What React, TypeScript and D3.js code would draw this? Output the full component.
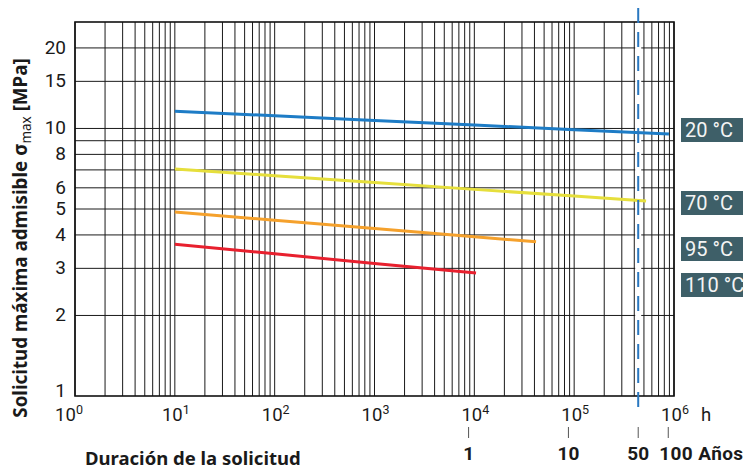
import React from "react";
import * as d3 from "d3";

// ---- data ----
const series20Hours = [10, 100, 1000, 10000, 100000, 890000];
const series20Values = [11.6, 11.15, 10.7, 10.3, 9.9, 9.53];
const series70Hours = [10, 100, 1000, 10000, 100000, 525000];
const series70Values = [7.06, 6.66, 6.28, 5.92, 5.59, 5.36];
const series95Hours = [10, 100, 1000, 10000, 41500];
const series95Values = [4.87, 4.54, 4.23, 3.94, 3.77];
const series110Hours = [10, 100, 1000, 10400];
const series110Values = [3.69, 3.4, 3.13, 2.88];

const seriesNames = ["20 °C", "70 °C", "95 °C", "110 °C"];
const seriesColors = ["#1d7cc6", "#e6df3c", "#f5a12c", "#e8202e"];

const yTickValues = [1, 2, 3, 4, 5, 6, 8, 10, 15, 20];
const yGridValues = [2, 3, 4, 5, 6, 7, 8, 9, 10, 15, 20];
const xDecadeExponents = [0, 1, 2, 3, 4, 5, 6];
const yearTicks = [1, 10, 50, 100];
const yearLabels = ["1", "10", "50", "100 Años"];
const hoursPerYear = 8760;
const serviceYears = 50;

const W = 749;
const H = 471;
const L = 75, R = 674, T = 22, B = 396;

const x = d3.scaleLog().domain([1, 1e6]).range([L, R]);
const y = d3.scaleLog().domain([1, 25]).range([B, T]);

const FONT = "Roboto, 'Noto Sans', sans-serif";
const TITLE_FONT = "'Noto Sans', Roboto, sans-serif";

export default function App() {
  const hoursList = [series20Hours, series70Hours, series95Hours, series110Hours];
  const valueList = [series20Values, series70Values, series95Values, series110Values];
  const line = d3
    .line<[number, number]>()
    .x((d) => x(d[0]))
    .y((d) => y(d[1]));

  const vGrid: number[] = [];
  for (let dcd = 0; dcd < 6; dcd++) {
    for (let k = 1; k <= 9; k++) vGrid.push(k * Math.pow(10, dcd));
  }
  vGrid.push(1e6);

  const labelBoxY = [118, 191, 237, 273];
  const dashX = x(serviceYears * hoursPerYear);

  return (
    <svg
      width={W}
      height={H}
      style={{ position: "absolute", left: 0, top: 0, background: "#fff" }}
      fontFamily={FONT}
    >
      {/* grid */}
      {vGrid.map((v, i) => (
        <line key={"v" + i} x1={x(v)} x2={x(v)} y1={T} y2={B} stroke="#1a1a1a" strokeWidth={1} />
      ))}
      {yGridValues.map((v, i) => (
        <line key={"h" + i} x1={L} x2={R} y1={y(v)} y2={y(v)} stroke="#1a1a1a" strokeWidth={1} />
      ))}
      {/* frame */}
      <rect x={L} y={T} width={R - L} height={B - T} fill="none" stroke="#111" strokeWidth={1.6} />

      {/* service life marker background */}
      <line x1={dashX} x2={dashX} y1={T + 1} y2={B - 1} stroke="#fff" strokeWidth={6} />

      {/* series */}
      {hoursList.map((hs, i) => (
        <path
          key={"s" + i}
          d={line(hs.map((h, j) => [h, valueList[i][j]] as [number, number])) || ""}
          fill="none"
          stroke={seriesColors[i]}
          strokeWidth={3}
        />
      ))}

      {/* dashed 50-year line */}
      <line
        x1={dashX}
        x2={dashX}
        y1={8}
        y2={413}
        stroke="#2a78c0"
        strokeWidth={2}
        strokeDasharray="15 9"
      />

      {/* y tick labels */}
      {yTickValues.map((v) => (
        <text
          key={"yt" + v}
          x={66}
          y={v === 1 ? y(v) + 1 : y(v) + 5.8}
          textAnchor="end"
          fontSize={19}
          fill="#1a1a1a"
        >
          {v}
        </text>
      ))}

      {/* x tick labels */}
      {xDecadeExponents.map((e) => {
        const cx = x(Math.pow(10, e));
        const anchorX = e === 0 ? cx - 6 : cx + 1;
        return (
          <text key={"xt" + e} x={anchorX} y={421} textAnchor="middle" fontSize={18.5} fill="#1a1a1a">
            10
            <tspan fontSize={12.5} dy={-7}>
              {e}
            </tspan>
          </text>
        );
      })}
      <text x={x(1e6) + 27} y={421} fontSize={18.5} fill="#1a1a1a">
        h
      </text>

      {/* year ticks */}
      {yearTicks.map((yr, i) => {
        const px = x(yr * hoursPerYear);
        const isLast = i === yearTicks.length - 1;
        return (
          <g key={"yr" + yr}>
            <line x1={px} x2={px} y1={427} y2={438} stroke="#555" strokeWidth={1} />
            <text
              x={isLast ? px - 9 : px}
              y={460}
              textAnchor={isLast ? "start" : "middle"}
              fontSize={19}
              fontWeight={700}
              fill="#1a1a1a"
              letterSpacing={isLast ? 0.4 : 0}
            >
              {yearLabels[i]}
            </text>
          </g>
        );
      })}

      {/* axis titles */}
      <text x={85} y={465} fontSize={18.5} fontWeight={700} fill="#1a1a1a" fontFamily={TITLE_FONT}>
        Duración de la solicitud
      </text>
      <text
        transform={`translate(27, 238) rotate(-90)`}
        textAnchor="middle"
        fontSize={18.8}
        fontWeight={700}
        fill="#1a1a1a"
        fontFamily={TITLE_FONT}
      >
        Solicitud máxima admisible σ
        <tspan fontSize={13.5} fontWeight={400} dy={4}>max</tspan>
        <tspan dy={-4}> [MPa]</tspan>
      </text>

      {/* series labels */}
      {seriesNames.map((n, i) => (
        <g key={"lb" + i}>
          <rect x={681} y={labelBoxY[i]} width={62} height={24} fill="#3e5f68" />
          <text x={685} y={labelBoxY[i] + 19} fontSize={20} fill="#f4f4f4">
            {n}
          </text>
        </g>
      ))}
    </svg>
  );
}
